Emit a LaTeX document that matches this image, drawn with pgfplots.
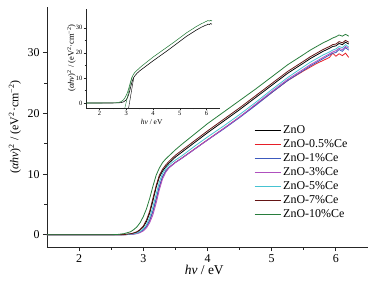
\documentclass[border=0pt]{standalone}
\usepackage{pgfplots}
\pgfplotsset{compat=1.18}
\usepackage{pgfplotstable}
\usepackage{fontspec}
\setmainfont{Liberation Serif}

\definecolor{czno}{RGB}{0,0,0}
\definecolor{cred}{RGB}{230,30,40}
\definecolor{cblue}{RGB}{60,90,190}
\definecolor{cpurple}{RGB}{175,80,190}
\definecolor{ccyan}{RGB}{70,195,210}
\definecolor{cbrown}{RGB}{100,20,20}
\definecolor{cgreen}{RGB}{40,125,60}

\pgfplotstableread{
x     zno   ce05  ce1   ce3   ce5   ce7   ce10
1.5   0     0     0     0     0     0     0
2.0   0     0     0     0     0     0     0
2.5   0     0     0     0     0     0     0.02
2.6   0.02  0.01  0.01  0.01  0.01  0.02  0.06
2.7   0.04  0.02  0.02  0.02  0.03  0.05  0.2
2.8   0.15  0.08  0.08  0.06  0.1   0.17  0.5
2.85  0.28  0.14  0.15  0.12  0.18  0.3   0.85
2.9   0.45  0.24  0.25  0.2   0.3   0.5   1.3
2.95  0.8   0.43  0.45  0.36  0.55  0.88  2.0
3.0   1.3   0.78  0.8   0.65  0.95  1.45  3.0
3.05  2.2   1.35  1.4   1.15  1.7   2.45  4.3
3.1   3.6   2.35  2.4   2.0   2.9   3.9   6.0
3.15  5.6   3.85  3.9   3.3   4.6   6.0   8.0
3.2   7.8   5.8   5.9   5.2   6.7   8.1   9.8
3.25  9.5   7.9   8.0   7.4   8.7   9.8   11.0
3.3   10.5  9.5   9.6   9.2   10.1  10.8  11.9
3.35  11.2  10.5  10.5  10.3  10.9  11.5  12.5
3.4   11.8  11.1  11.1  11.0  11.5  12.1  13.0
3.5   12.8  11.95 11.9  11.9  12.3  13.1  14.0
3.6   13.6  12.65 12.6  12.6  13.0  13.9  14.9
3.8   15.2  14.15 14.1  14.1  14.6  15.5  16.6
4.0   16.8  15.65 15.6  15.6  16.1  17.1  18.3
4.25  18.7  17.5  17.4  17.5  17.9  19.0  20.2
4.5   20.6  19.4  19.3  19.4  19.8  20.9  22.1
4.75  22.6  21.4  21.3  21.5  21.8  22.9  24.0
5.0   24.6  23.4  23.4  23.6  23.9  24.9  26.0
5.25  26.6  25.4  25.4  25.6  25.9  26.9  28.0
5.5   28.3  27.0  27.1  27.3  27.7  28.6  29.7
5.6   29.0  27.6  27.8  28.0  28.4  29.3  30.4
5.7   29.6  28.2  28.4  28.6  29.0  29.9  31.0
5.8   30.2  28.7  29.0  29.2  29.6  30.5  31.6
5.9   30.7  29.2  29.6  29.8  30.1  31.0  32.1
5.95  31.0  29.9  29.9  30.1  30.4  31.3  32.4
6.0   31.1  29.4  30.0  30.3  30.6  31.4  32.6
6.05  31.5  29.8  30.5  30.7  31.0  31.8  32.9
6.1   31.3  29.5  30.2  30.5  30.8  31.6  32.7
6.15  31.7  29.9  30.8  31.0  31.3  32.0  33.0
6.2   31.4  29.2  30.4  30.7  30.9  31.7  32.7
}\data

\pgfplotstableread{
x     y
2.95  -2
3.22  10.5
}\tangreen
\pgfplotstableread{
x     y
3.09  -2
3.28  10.0
}\tanblack

\newcommand{\ylab}{(\textit{αhν})\textsuperscript{2} / (eV\textsuperscript{2}·cm\textsuperscript{−2})}
\newcommand{\xlab}{\textit{hν} / eV}

\begin{document}
\begin{tikzpicture}
\useasboundingbox (-47bp,-35bp) rectangle (345bp,247bp);
\begin{axis}[
  at={(0bp,0bp)}, anchor=south west,
  scale only axis, width=321bp, height=240bp,
  xmin=1.5, xmax=6.5, ymin=-2, ymax=37.5,
  axis lines*=left,
  axis line style={line width=0.9bp, black!85},
  tick align=outside,
  major tick length=4bp, minor tick length=2.5bp,
  every tick/.style={line width=0.8bp, black!85},
  xtick={2,3,4,5,6}, minor x tick num=1,
  ytick={0,10,20,30}, minor y tick num=1,
  /pgf/number format/assume math mode=true,
  tick label style={font=\fontsize{12}{14}\selectfont},
  xlabel={\xlab}, ylabel={\ylab},
  every axis x label/.style={at={(axis description cs:0.49,-0.096)}, anchor=center, font=\fontsize{13.5}{14}\selectfont},
  every axis y label/.style={at={(axis description cs:-0.10,0.5)}, anchor=center, rotate=90, font=\fontsize{12}{14}\selectfont},
  legend style={at={(axis description cs:0.645,0.512)}, anchor=north west,
    draw=none, fill=none, inner sep=0pt, column sep=1bp,
    font=\fontsize{12}{14}\selectfont,
    nodes={inner sep=1bp, text height=8bp, text depth=3bp}, row sep=1bp},
  legend cell align=left,
  legend image code/.code={\draw[line width=1bp,#1] (0bp,0bp) -- (26bp,0bp);},
  every axis plot/.append style={line width=0.8bp},
]
\addplot[czno]    table[x=x,y=zno]  {\data};
\addplot[cred]    table[x=x,y=ce05] {\data};
\addplot[cblue]   table[x=x,y=ce1]  {\data};
\addplot[cpurple] table[x=x,y=ce3]  {\data};
\addplot[ccyan]   table[x=x,y=ce5]  {\data};
\addplot[cbrown]  table[x=x,y=ce7]  {\data};
\addplot[cgreen]  table[x=x,y=ce10] {\data};
\legend{ZnO,ZnO-0.5\%Ce,ZnO-1\%Ce,ZnO-3\%Ce,ZnO-5\%Ce,ZnO-7\%Ce,ZnO-10\%Ce}
\end{axis}

\begin{axis}[
  at={(39bp,139bp)}, anchor=south west,
  scale only axis, width=134bp, height=99bp,
  xmin=1.5, xmax=6.5, ymin=-2, ymax=37.5,
  axis lines*=left,
  axis line style={line width=0.5bp, black!85},
  tick align=outside,
  major tick length=2.5bp, minor tick length=1.5bp,
  every tick/.style={line width=0.5bp, black!85},
  xtick={2,3,4,5,6}, minor x tick num=1,
  ytick={0,10,20,30}, minor y tick num=1,
  /pgf/number format/assume math mode=true,
  tick label style={font=\fontsize{6.5}{7}\selectfont, inner sep=1bp},
  xlabel={\xlab}, ylabel={\ylab},
  every axis x label/.style={at={(axis description cs:0.49,-0.14)}, anchor=center, font=\fontsize{7.5}{8}\selectfont},
  every axis y label/.style={at={(axis description cs:-0.108,0.505)}, anchor=center, rotate=90, font=\fontsize{8.5}{9}\selectfont},
  every axis plot/.append style={line width=0.55bp},
]
\addplot[czno]   table[x=x,y=zno]  {\data};
\addplot[cgreen] table[x=x,y=ce10] {\data};
\addplot[czno, line width=0.4bp]   table[x=x,y=y] {\tanblack};
\addplot[cgreen, line width=0.4bp] table[x=x,y=y] {\tangreen};
\end{axis}
\end{tikzpicture}
\end{document}
